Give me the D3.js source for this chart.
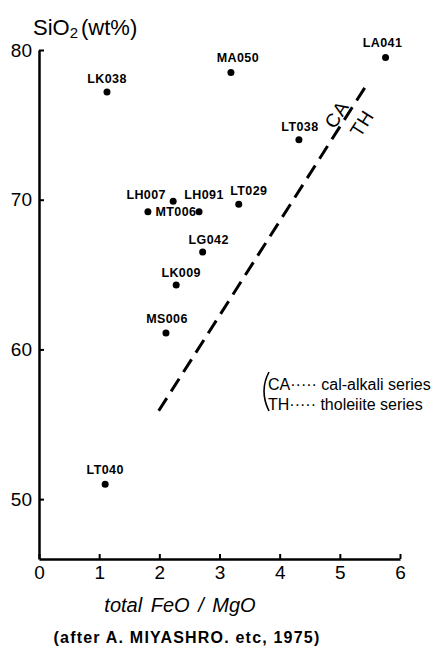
<!DOCTYPE html>
<html>
<head>
<meta charset="utf-8">
<script src="https://cdn.jsdelivr.net/npm/d3@7"></script>
<style>
  body { margin: 0; background: #fff; }
  svg { display: block; font-family: "Liberation Sans", Arial, sans-serif; }
</style>
</head>
<body>
<script>
// sample names, FeO/MgO ratio and SiO2 wt%
const samples = ["LK038", "MA050", "LA041", "LT038", "LH007", "LH091", "MT006", "LT029", "LG042", "LK009", "MS006", "LT040"];
const feoMgo  = [1.13, 3.19, 5.76, 4.32, 2.23, 2.66, 1.81, 3.32, 2.72, 2.28, 2.11, 1.10];
const sio2    = [77.2, 78.5, 79.5, 74.0, 69.9, 69.2, 69.2, 69.7, 66.5, 64.3, 61.1, 51.0];

// CA / TH boundary line
const boundaryX = [1.99, 5.45];
const boundaryY = [55.9, 77.7];

const xTicks = [0, 1, 2, 3, 4, 5, 6];
const yTicks = [50, 60, 70, 80];

// label placement, pixels from the dot [dx, dy]
const labelOffsets = {
  LK038: [0, -9], MA050: [7, -10], LA041: [-3, -10], LT038: [1, -9],
  LH007: [-27, -2], LH091: [5, -13], MT006: [28, 4], LT029: [10, -9],
  LG042: [6, -8], LK009: [5, -8], MS006: [1, -10], LT040: [0, -10]
};

const width = 435, height = 655;
const marginLeft = 39, marginRight = 35, marginTop = 50, marginBottom = 96;

const xScale = d3.scaleLinear().domain([0, 6]).range([marginLeft, width - marginRight]);
const yScale = d3.scaleLinear().domain([46, 80]).range([height - marginBottom, marginTop]);

const svg = d3.select("body").append("svg")
  .attr("width", width)
  .attr("height", height)
  .attr("viewBox", [0, 0, width, height]);

// x axis
svg.append("g")
  .attr("transform", `translate(0,${height - marginBottom})`)
  .call(d3.axisBottom(xScale).tickValues(xTicks).tickFormat(d3.format("d"))
    .tickSizeInner(-5).tickSizeOuter(0).tickPadding(7))
  .call(g => g.select(".domain").attr("stroke-width", 2.5))
  .call(g => g.selectAll(".tick line").attr("stroke-width", 2))
  .call(g => g.selectAll(".tick text").attr("font-size", 19).attr("fill", "#000"));

// y axis
svg.append("g")
  .attr("transform", `translate(${marginLeft},0)`)
  .call(d3.axisLeft(yScale).tickValues(yTicks)
    .tickSizeInner(-5).tickSizeOuter(0).tickPadding(7))
  .call(g => g.select(".domain").attr("stroke-width", 2.5))
  .call(g => g.selectAll(".tick line").attr("stroke-width", 2))
  .call(g => g.selectAll(".tick text").attr("font-size", 19).attr("fill", "#000"));

// y title
const yTitle = svg.append("text")
  .attr("x", 33)
  .attr("y", 35)
  .attr("font-size", 22)
  .attr("fill", "#000");
yTitle.append("tspan").text("SiO");
yTitle.append("tspan").attr("font-size", 15).attr("dy", 3).text("2");
yTitle.append("tspan").attr("dy", -3).attr("dx", 3).text("(wt%)");

// x title + credit
svg.append("text")
  .attr("x", 180)
  .attr("y", height - 43)
  .attr("text-anchor", "middle")
  .attr("font-size", 20)
  .attr("font-style", "italic")
  .attr("word-spacing", 3)
  .text("total FeO / MgO");

svg.append("text")
  .attr("x", 187)
  .attr("y", height - 12)
  .attr("text-anchor", "middle")
  .attr("font-size", 16)
  .attr("font-weight", "bold")
  .attr("letter-spacing", 1.2)
  .text("(after A. MIYASHRO. etc, 1975)");

// boundary line
const line = d3.line().x(i => xScale(boundaryX[i])).y(i => yScale(boundaryY[i]));
svg.append("path")
  .attr("d", line(d3.range(boundaryX.length)))
  .attr("fill", "none")
  .attr("stroke", "#000")
  .attr("stroke-width", 3)
  .attr("stroke-dasharray", "15 8");

// CA / TH along the line
const angle = Math.atan2(
  yScale(boundaryY[1]) - yScale(boundaryY[0]),
  xScale(boundaryX[1]) - xScale(boundaryX[0])) * 180 / Math.PI;

[["CA", 4.95, 75.7], ["TH", 5.37, 75.1]].forEach(([t, x, y]) => {
  svg.append("text")
    .attr("transform", `translate(${xScale(x)},${yScale(y)}) rotate(${angle})`)
    .attr("text-anchor", "middle")
    .attr("dominant-baseline", "central")
    .attr("font-size", 19)
    .attr("letter-spacing", 1)
    .text(t);
});

// dots
const I = d3.range(samples.length);
svg.append("g")
  .selectAll("circle")
  .data(I)
  .join("circle")
  .attr("cx", i => xScale(feoMgo[i]))
  .attr("cy", i => yScale(sio2[i]))
  .attr("r", 3.5)
  .attr("fill", "#000");

svg.append("g")
  .attr("font-size", 12.5)
  .attr("font-weight", "bold")
  .attr("letter-spacing", 0.4)
  .attr("text-anchor", "middle")
  .selectAll("text")
  .data(I)
  .join("text")
  .attr("x", i => xScale(feoMgo[i]) + labelOffsets[samples[i]][0])
  .attr("y", i => yScale(sio2[i]) + labelOffsets[samples[i]][1])
  .text(i => samples[i]);

// legend
svg.append("path")
  .attr("d", "M269,372 Q259,391 269,411")
  .attr("fill", "none")
  .attr("stroke", "#000")
  .attr("stroke-width", 1.6);

svg.append("text")
  .attr("x", 268).attr("y", 390)
  .attr("font-size", 16)
  .text("CA····· cal-alkali series");

svg.append("text")
  .attr("x", 268).attr("y", 410)
  .attr("font-size", 16)
  .text("TH····· tholeiite series");
</script>
</body>
</html>
